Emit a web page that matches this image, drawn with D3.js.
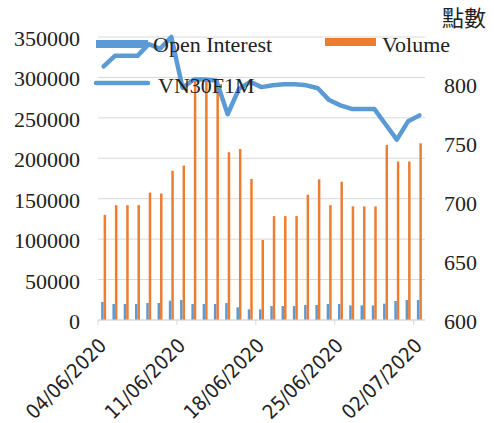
<!DOCTYPE html>
<html>
<head>
<meta charset="utf-8">
<script src="https://cdn.jsdelivr.net/npm/d3@7"></script>
<style>
  body { margin: 0; background: #fff; }
  svg { display: block; }
  .lbl { font-family: "Liberation Serif", "Times New Roman", serif; font-size: 22px; fill: #222; }
  .date { font-family: "Liberation Sans Narrow", "DejaVu Sans Condensed", "Liberation Sans", sans-serif; font-size: 20px; fill: #222; }
</style>
</head>
<body>
<div id="chart-area"></div>
<script>
var dates = ["04/06/2020","05/06/2020","06/06/2020","07/06/2020","08/06/2020","09/06/2020","10/06/2020",
    "11/06/2020","12/06/2020","13/06/2020","14/06/2020","15/06/2020","16/06/2020","17/06/2020",
    "18/06/2020","19/06/2020","20/06/2020","21/06/2020","22/06/2020","23/06/2020","24/06/2020",
    "25/06/2020","26/06/2020","27/06/2020","28/06/2020","29/06/2020","30/06/2020","01/07/2020",
    "02/07/2020"];
var tickDates = ["04/06/2020","11/06/2020","18/06/2020","25/06/2020","02/07/2020"];

var openInterest = [22300,19800,19800,19800,21000,21000,23900,24700,19800,19800,19800,21000,15700,13200,
    13200,17300,17300,17300,18600,18600,19800,19800,18100,18100,18100,20200,23500,24700,24700];
var volume = [130000,142000,142000,142000,157500,156500,184500,191000,298000,298000,297000,207500,211500,174500,
    99000,128500,128500,128500,155000,174000,142000,171000,140500,140500,140500,216500,196000,196000,218500];
var vn30 = [815,824,824,824,834,830,840,797,804,804,803,774.5,796,802,
    797.5,799,800,800,799,796.5,786.5,782,779,779,779,766,753,768.5,773.5];

var leftTicks = [0,50000,100000,150000,200000,250000,300000,350000];
var rightTicks = [600,650,700,750,800];

var width = 494, height = 423;
var plotLeft = 98, plotRight = 425, plotTop = 37, plotBottom = 320;

var svg = d3.select("#chart-area").append("svg")
    .attr("width", width)
    .attr("height", height);

var x0 = d3.scaleBand()
    .domain(dates)
    .range([plotLeft, plotRight])
    .paddingInner(0.56)
    .paddingOuter(0.28);

var x1 = d3.scaleBand()
    .domain(["oi", "vol"])
    .range([0, x0.bandwidth()]);

var yLeft = d3.scaleLinear().domain([0, 350000]).range([plotBottom, plotTop]);
var yRight = d3.scaleLinear().domain([600, 840]).range([plotBottom, plotTop]);

// gridlines
svg.selectAll(".grid")
    .data(leftTicks)
    .enter()
    .append("line")
    .attr("x1", plotLeft)
    .attr("x2", plotRight)
    .attr("y1", function (d) { return yLeft(d); })
    .attr("y2", function (d) { return yLeft(d); })
    .attr("stroke", "#d9d9d9")
    .attr("stroke-width", 1);

// left labels
svg.selectAll(".ltick")
    .data(leftTicks)
    .enter()
    .append("text")
    .attr("class", "lbl")
    .attr("x", 80)
    .attr("y", function (d) { return yLeft(d) + 9; })
    .attr("text-anchor", "end")
    .text(function (d) { return d; });

// right labels
svg.selectAll(".rtick")
    .data(rightTicks)
    .enter()
    .append("text")
    .attr("class", "lbl")
    .attr("x", 444)
    .attr("y", function (d) { return yRight(d) + 9; })
    .attr("text-anchor", "start")
    .text(function (d) { return d; });

svg.append("text")
    .attr("x", 442)
    .attr("y", 26)
    .style("font-family", "'Noto Sans CJK TC', sans-serif")
    .style("font-size", "22px")
    .style("fill", "#222")
    .text("點數");

// bars
var barW = 2.5;
svg.selectAll(".oi")
    .data(openInterest)
    .enter()
    .append("rect")
    .attr("x", function (d, i) { return x0(dates[i]) + x1("oi"); })
    .attr("width", barW)
    .attr("y", function (d) { return yLeft(d); })
    .attr("height", function (d) { return plotBottom - yLeft(d); })
    .attr("fill", "#5b9bd5");

svg.selectAll(".vol")
    .data(volume)
    .enter()
    .append("rect")
    .attr("x", function (d, i) { return x0(dates[i]) + x1("vol"); })
    .attr("width", barW)
    .attr("y", function (d) { return yLeft(d); })
    .attr("height", function (d) { return plotBottom - yLeft(d); })
    .attr("fill", "#ed7d31");

// x axis
svg.append("line")
    .attr("x1", plotLeft).attr("x2", plotRight)
    .attr("y1", plotBottom).attr("y2", plotBottom)
    .attr("stroke", "#d9d9d9");

svg.selectAll(".xtick")
    .data(tickDates)
    .enter()
    .append("line")
    .attr("x1", function (d) { return x0(d) - x0.step() * x0.paddingInner() / 2; })
    .attr("x2", function (d) { return x0(d) - x0.step() * x0.paddingInner() / 2; })
    .attr("y1", plotBottom)
    .attr("y2", plotBottom + 5)
    .attr("stroke", "#d9d9d9");

svg.selectAll(".xlabel")
    .data(tickDates)
    .enter()
    .append("text")
    .attr("class", "date")
    .attr("text-anchor", "end")
    .attr("transform", function (d) {
        var cx = x0(d) + x0.bandwidth() / 2;
        return "translate(" + (cx + 4) + "," + 347 + ") rotate(-45)";
    })
    .text(function (d) { return d; });

// VN30F1M line
var line = d3.line()
    .x(function (d, i) { return x0(dates[i]) + x0.bandwidth() / 2; })
    .y(function (d) { return yRight(d); });

svg.append("path")
    .datum(vn30)
    .attr("d", line)
    .attr("fill", "none")
    .attr("stroke", "#5b9bd5")
    .attr("stroke-width", 4.5)
    .attr("stroke-linejoin", "round")
    .attr("stroke-linecap", "round");

// legend
svg.append("rect")
    .attr("x", 96).attr("y", 40).attr("width", 52).attr("height", 8)
    .attr("fill", "#5b9bd5");
svg.append("text").attr("class", "lbl").attr("x", 153).attr("y", 52).text("Open Interest");

svg.append("rect")
    .attr("x", 325).attr("y", 38).attr("width", 51).attr("height", 8)
    .attr("fill", "#ed7d31");
svg.append("text").attr("class", "lbl").attr("x", 382).attr("y", 52).text("Volume");

svg.append("line")
    .attr("x1", 96).attr("x2", 148).attr("y1", 83).attr("y2", 83)
    .attr("stroke", "#5b9bd5").attr("stroke-width", 4.5).attr("stroke-linecap", "round");
svg.append("text").attr("class", "lbl").attr("x", 158).attr("y", 93).text("VN30F1M");
</script>
</body>
</html>
